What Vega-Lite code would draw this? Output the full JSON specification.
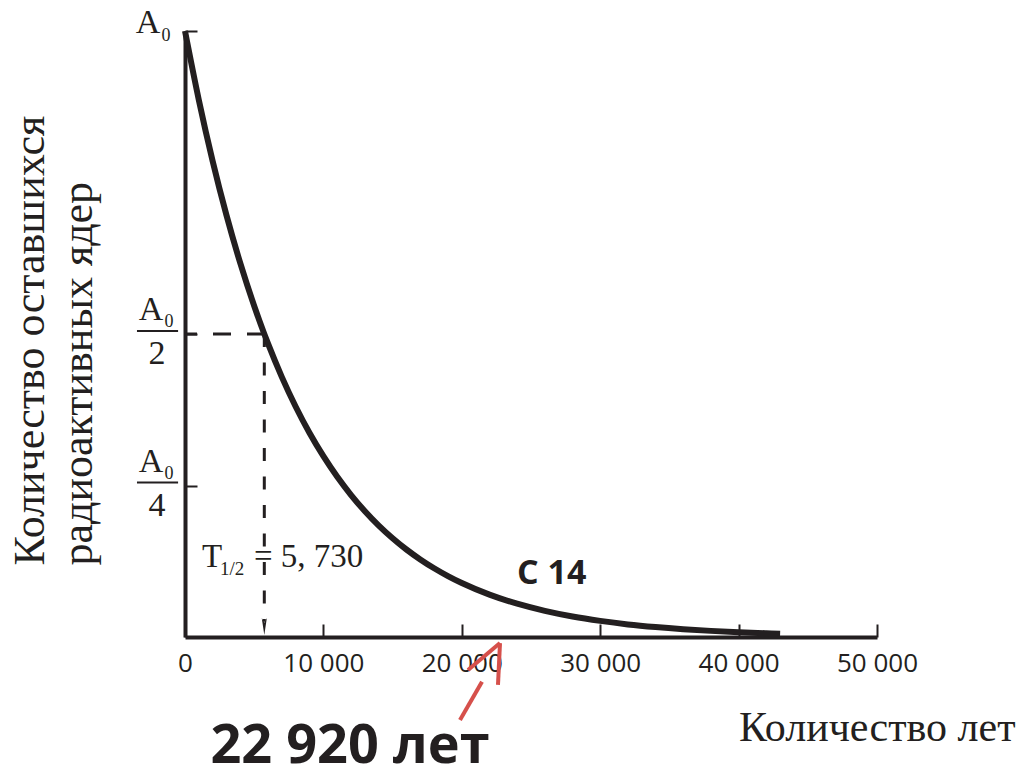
{
  "$schema": "https://vega.github.io/schema/vega-lite/v6.json",
  "width": 692,
  "height": 606,
  "autosize": {"type": "none"},
  "padding": {"left": 185, "top": 31, "right": 149, "bottom": 143},
  "background": "white",
  "config": {
    "view": {"stroke": null},
    "axis": {"grid": false, "titleFont": "Liberation Serif", "titleFontWeight": "normal", "titleColor": "#231f20", "labelFlush": false}
  },
  "datasets": {
    "decay": [
      {"t": 0, "n": 1},
      {"t": 1000, "n": 0.8861},
      {"t": 2000, "n": 0.7851},
      {"t": 3000, "n": 0.6957},
      {"t": 4000, "n": 0.6164},
      {"t": 5000, "n": 0.5462},
      {"t": 5730, "n": 0.5},
      {"t": 6000, "n": 0.484},
      {"t": 7000, "n": 0.4289},
      {"t": 8000, "n": 0.38},
      {"t": 9000, "n": 0.3367},
      {"t": 10000, "n": 0.2984},
      {"t": 11000, "n": 0.2644},
      {"t": 12000, "n": 0.2343},
      {"t": 13000, "n": 0.2076},
      {"t": 14000, "n": 0.1839},
      {"t": 15000, "n": 0.163},
      {"t": 16000, "n": 0.1444},
      {"t": 17000, "n": 0.128},
      {"t": 18000, "n": 0.1134},
      {"t": 19000, "n": 0.1005},
      {"t": 20000, "n": 0.089},
      {"t": 22000, "n": 0.0699},
      {"t": 24000, "n": 0.0549},
      {"t": 26000, "n": 0.0431},
      {"t": 28000, "n": 0.0338},
      {"t": 30000, "n": 0.0266},
      {"t": 32000, "n": 0.0208},
      {"t": 34000, "n": 0.0164},
      {"t": 36000, "n": 0.0129},
      {"t": 38000, "n": 0.0101},
      {"t": 40000, "n": 0.0079},
      {"t": 42000, "n": 0.0062},
      {"t": 43000, "n": 0.0055}
    ],
    "halfH": [{"t": 0, "n": 0.5}, {"t": 5730, "n": 0.5}],
    "halfV": [{"t": 5730, "n": 0.5}, {"t": 5730, "n": 0.025}],
    "ylabels": [
      {"n": 1, "num": "A", "sub": "0", "den": ""},
      {"n": 0.5, "num": "A", "sub": "0", "den": "2"},
      {"n": 0.25, "num": "A", "sub": "0", "den": "4"}
    ],
    "arrow": [
      {"t": 19870, "n": -0.137, "t2": 21460, "n2": -0.074},
      {"t": 22760, "n": -0.01, "t2": 20450, "n2": -0.0545},
      {"t": 22760, "n": -0.01, "t2": 22615, "n2": -0.079}
    ],
    "notes": [
      {"label": "T₁/₂ = 5 730"},
      {"label": "C 14"},
      {"label": "22 920 лет"}
    ]
  },
  "layer": [
    {
      "data": {"name": "decay"},
      "mark": {"type": "line", "color": "#231f20", "strokeWidth": 6, "strokeCap": "butt", "interpolate": "monotone"},
      "encoding": {
        "x": {
          "field": "t", "type": "quantitative",
          "scale": {"domain": [0, 50000], "nice": false, "zero": false},
          "axis": {
            "values": [0, 10000, 20000, 30000, 40000, 50000],
            "labelExpr": "replace(format(datum.value, ','), ',', ' ')",
            "labelFont": "Open Sans", "labelFontSize": 26, "labelColor": "#231f20",
            "labelPadding": 26, "labelBaseline": "top", "labelFlush": false,
            "domainColor": "#231f20", "domainWidth": 4,
            "tickColor": "#231f20", "tickWidth": 2, "tickSize": -13,
            "title": "Количество лет",
            "titleFont": "Liberation Serif", "titleFontSize": 42, "titleFontWeight": "normal", "titleColor": "#231f20",
            "titleAlign": "right", "titleBaseline": "alphabetic",
            "titleX": 830, "titleY": 103
          }
        },
        "y": {
          "field": "n", "type": "quantitative",
          "scale": {"domain": [0, 1], "nice": false},
          "axis": {
            "values": [0.25, 0.5, 1],
            "labels": false,
            "domainColor": "#231f20", "domainWidth": 4,
            "tickColor": "#231f20", "tickWidth": 2, "tickSize": -12,
            "title": ["Количество оставшихся", "радиоактивных ядер"],
            "titleFont": "Liberation Serif", "titleFontSize": 44, "titleFontWeight": "normal", "titleColor": "#231f20",
            "titleAngle": -90, "titleAlign": "left", "titleBaseline": "alphabetic",
            "titleLineHeight": 48,
            "titleX": -142, "titleY": 534
          }
        }
      }
    },
    {
      "data": {"name": "halfH"},
      "mark": {"type": "line", "color": "#231f20", "strokeWidth": 3, "strokeDash": [18, 16], "strokeDashOffset": 6},
      "encoding": {
        "x": {"field": "t", "type": "quantitative"},
        "y": {"field": "n", "type": "quantitative"}
      }
    },
    {
      "data": {"name": "halfV"},
      "mark": {"type": "line", "color": "#231f20", "strokeWidth": 3, "strokeDash": [13, 15.5]},
      "encoding": {
        "x": {"field": "t", "type": "quantitative"},
        "y": {"field": "n", "type": "quantitative"}
      }
    },
    {
      "data": {"values": [{"t": 5730, "n": 0.0173}]},
      "mark": {"type": "point", "shape": "M-0.3,-1L0,1L0.3,-1L0,-0.45Z", "filled": true, "size": 289, "color": "#231f20", "opacity": 1, "strokeWidth": 0},
      "encoding": {
        "x": {"field": "t", "type": "quantitative"},
        "y": {"field": "n", "type": "quantitative"}
      }
    },
    {
      "data": {"name": "arrow"},
      "mark": {"type": "rule", "color": "#d6504b", "strokeWidth": 4},
      "encoding": {
        "x": {"field": "t", "type": "quantitative"},
        "y": {"field": "n", "type": "quantitative"},
        "x2": {"field": "t2"},
        "y2": {"field": "n2"}
      }
    },
    {
      "data": {"name": "ylabels"},
      "transform": [{"filter": "datum.n == 1"}],
      "mark": {"type": "text", "font": "Liberation Serif", "fontSize": 34, "color": "#231f20", "align": "center", "baseline": "alphabetic", "dx": -37, "dy": 2},
      "encoding": {
        "x": {"datum": 0, "type": "quantitative"},
        "y": {"field": "n", "type": "quantitative"},
        "text": {"field": "num"}
      }
    },
    {
      "data": {"name": "ylabels"},
      "transform": [{"filter": "datum.n == 1"}],
      "mark": {"type": "text", "font": "Liberation Serif", "fontSize": 18, "color": "#231f20", "align": "center", "baseline": "alphabetic", "dx": -19, "dy": 10},
      "encoding": {
        "x": {"datum": 0, "type": "quantitative"},
        "y": {"field": "n", "type": "quantitative"},
        "text": {"field": "sub"}
      }
    },
    {
      "data": {"name": "ylabels"},
      "transform": [{"filter": "datum.n < 1"}],
      "mark": {"type": "text", "font": "Liberation Serif", "fontSize": 34, "color": "#231f20", "align": "center", "baseline": "alphabetic", "dx": -34, "dy": -14},
      "encoding": {
        "x": {"datum": 0, "type": "quantitative"},
        "y": {"field": "n", "type": "quantitative"},
        "text": {"field": "num"}
      }
    },
    {
      "data": {"name": "ylabels"},
      "transform": [{"filter": "datum.n < 1"}],
      "mark": {"type": "text", "font": "Liberation Serif", "fontSize": 18, "color": "#231f20", "align": "center", "baseline": "alphabetic", "dx": -16, "dy": -7},
      "encoding": {
        "x": {"datum": 0, "type": "quantitative"},
        "y": {"field": "n", "type": "quantitative"},
        "text": {"field": "sub"}
      }
    },
    {
      "data": {"name": "ylabels"},
      "transform": [{"filter": "datum.n < 1"}],
      "mark": {"type": "rule", "color": "#231f20", "strokeWidth": 2, "yOffset": -3},
      "encoding": {
        "x": {"datum": -3470, "type": "quantitative"},
        "x2": {"datum": -500},
        "y": {"field": "n", "type": "quantitative"}
      }
    },
    {
      "data": {"name": "ylabels"},
      "transform": [{"filter": "datum.n < 1"}],
      "mark": {"type": "text", "font": "Liberation Serif", "fontSize": 34, "color": "#231f20", "align": "center", "baseline": "alphabetic", "dx": -28, "dy": 30},
      "encoding": {
        "x": {"datum": 0, "type": "quantitative"},
        "y": {"field": "n", "type": "quantitative"},
        "text": {"field": "den"}
      }
    },
    {
      "data": {"name": "notes"},
      "transform": [{"filter": "datum.label == 'T₁/₂ = 5 730'"}],
      "mark": {"type": "text", "text": "T", "font": "Liberation Serif", "fontSize": 33, "color": "#231f20", "align": "left", "baseline": "alphabetic"},
      "encoding": {
        "x": {"datum": 1230, "type": "quantitative"},
        "y": {"datum": 0.1155, "type": "quantitative"}
      }
    },
    {
      "data": {"name": "notes"},
      "transform": [{"filter": "datum.label == 'T₁/₂ = 5 730'"}],
      "mark": {"type": "text", "text": "1/2", "font": "Liberation Serif", "fontSize": 19, "color": "#231f20", "align": "left", "baseline": "alphabetic"},
      "encoding": {
        "x": {"datum": 2530, "type": "quantitative"},
        "y": {"datum": 0.102, "type": "quantitative"}
      }
    },
    {
      "data": {"name": "notes"},
      "transform": [{"filter": "datum.label == 'T₁/₂ = 5 730'"}],
      "mark": {"type": "text", "text": "= 5, 730", "font": "Liberation Serif", "fontSize": 33, "color": "#231f20", "align": "left", "baseline": "alphabetic"},
      "encoding": {
        "x": {"datum": 4985, "type": "quantitative"},
        "y": {"datum": 0.1155, "type": "quantitative"}
      }
    },
    {
      "data": {"name": "notes"},
      "transform": [{"filter": "datum.label == 'C 14'"}],
      "mark": {"type": "text", "font": "Open Sans", "fontWeight": "bold", "fontSize": 34, "color": "#231f20", "align": "left", "baseline": "alphabetic"},
      "encoding": {
        "x": {"datum": 23990, "type": "quantitative"},
        "y": {"datum": 0.0875, "type": "quantitative"},
        "text": {"field": "label"}
      }
    },
    {
      "data": {"name": "notes"},
      "transform": [{"filter": "datum.label == '22 920 лет'"}],
      "mark": {"type": "text", "font": "Open Sans", "fontWeight": "bold", "fontSize": 54, "color": "#231f20", "align": "center", "baseline": "alphabetic"},
      "encoding": {
        "x": {"datum": 11920, "type": "quantitative"},
        "y": {"datum": -0.208, "type": "quantitative"},
        "text": {"field": "label"}
      }
    }
  ]
}
